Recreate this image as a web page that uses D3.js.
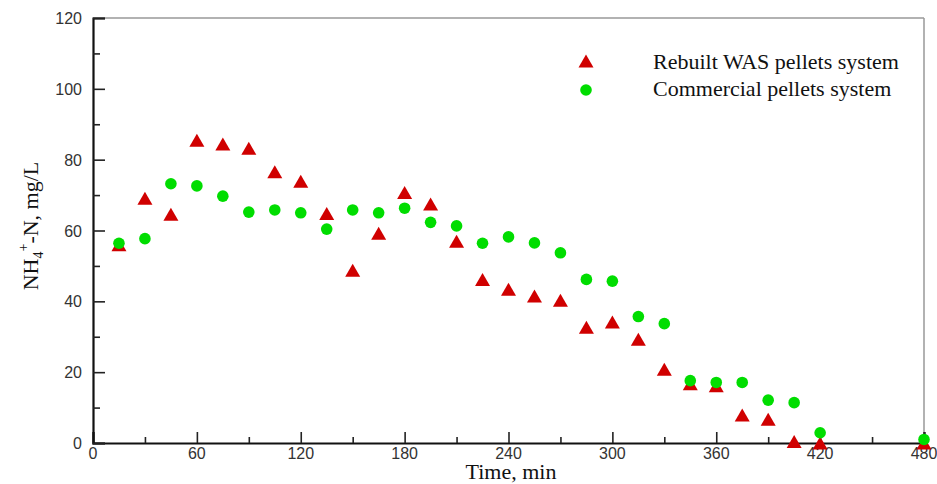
<!DOCTYPE html>
<html>
<head>
<meta charset="utf-8">
<script src="https://d3js.org/d3.v7.min.js"></script>
<style>
    body { margin: 0; background: #fff; }
    .tick-label { font-family: "Liberation Sans", Arial, sans-serif; font-size: 16px; fill: #333; }
    .serif { font-family: "Liberation Serif", "Times New Roman", serif; fill: #111; }
</style>
</head>
<body>
<script>
//time points, minutes
var times = [15, 30, 45, 60, 75, 90, 105, 120, 135, 150, 165, 180, 195, 210, 225,
    240, 255, 270, 285, 300, 315, 330, 345, 360, 375, 390, 405, 420, 480];

//NH4+-N, mg/L
var rebuiltWAS = [56, 69.1, 64.6, 85.5, 84.4, 83.2, 76.6, 73.9, 64.8, 48.8, 59.2, 70.7, 67.5, 57,
    46.2, 43.4, 41.5, 40.3, 32.7, 34.2, 29.3, 20.8, 16.7, 16.2, 7.9, 6.7, 0.4, 0, 0];
var commercial = [56.4, 57.7, 73.2, 72.6, 69.7, 65.2, 65.8, 65.0, 60.4, 65.8, 65.0, 66.3, 62.3, 61.3,
    56.4, 58.2, 56.5, 53.7, 46.2, 45.7, 35.7, 33.7, 17.6, 17.1, 17.1, 12.1, 11.4, 2.9, 1.0];

var xTicks = [0, 60, 120, 180, 240, 300, 360, 420, 480];
var yTicks = [0, 20, 40, 60, 80, 100, 120];
var seriesNames = ["Rebuilt WAS pellets system", "Commercial pellets system"];

window.onload = drawChart();

function drawChart() {
    var width = 937,
        height = 484,
        margin = {top: 18, right: 13, bottom: 41, left: 93};

    var svg = d3.select("body")
        .append("svg")
        .attr("width", width)
        .attr("height", height);

    var x = d3.scaleLinear()
        .domain([0, 480])
        .range([margin.left, width - margin.right]);

    var y = d3.scaleLinear()
        .domain([0, 120])
        .range([height - margin.bottom, margin.top]);

    //frame, top and right in grey
    svg.append("line")
        .attr("x1", x(0)).attr("x2", x(480))
        .attr("y1", y(120)).attr("y2", y(120))
        .attr("stroke", "#999").attr("stroke-width", 1.5);
    svg.append("line")
        .attr("x1", x(480)).attr("x2", x(480))
        .attr("y1", y(0)).attr("y2", y(120))
        .attr("stroke", "#999").attr("stroke-width", 1.5);

    //minor ticks
    var xMinor = d3.range(30, 480, 60);
    var yMinor = d3.range(10, 120, 20);

    var xAxis = d3.axisTop(x)
        .tickValues(xTicks)
        .tickSize(11)
        .tickFormat("");
    var yAxis = d3.axisRight(y)
        .tickValues(yTicks)
        .tickSize(12)
        .tickFormat("");

    svg.append("g")
        .attr("transform", "translate(0," + y(0) + ")")
        .call(xAxis);
    svg.append("g")
        .attr("transform", "translate(0," + y(0) + ")")
        .call(d3.axisTop(x).tickValues(xMinor).tickSize(6).tickFormat(""))
        .call(function (g) { g.select(".domain").remove(); });

    svg.append("g")
        .attr("transform", "translate(" + x(0) + ",0)")
        .call(yAxis);
    svg.append("g")
        .attr("transform", "translate(" + x(0) + ",0)")
        .call(d3.axisRight(y).tickValues(yMinor).tickSize(7).tickFormat(""))
        .call(function (g) { g.select(".domain").remove(); });

    svg.selectAll(".domain")
        .attr("stroke", "#111")
        .attr("stroke-width", 2.2);
    svg.selectAll(".tick line")
        .attr("stroke", "#222")
        .attr("stroke-width", 1.6);

    //tick labels
    svg.selectAll(".xlab")
        .data(xTicks)
        .enter()
        .append("text")
        .attr("class", "tick-label")
        .attr("x", function (d) { return x(d); })
        .attr("y", y(0) + 16)
        .attr("text-anchor", "middle")
        .text(function (d) { return d; });

    svg.selectAll(".ylab")
        .data(yTicks)
        .enter()
        .append("text")
        .attr("class", "tick-label")
        .attr("x", x(0) - 11)
        .attr("y", function (d) { return y(d) + 6; })
        .attr("text-anchor", "end")
        .text(function (d) { return d; });

    //axis titles
    svg.append("text")
        .attr("class", "serif")
        .attr("x", 511)
        .attr("y", 479)
        .attr("text-anchor", "middle")
        .style("font-size", "22px")
        .text("Time, min");

    var yt = svg.append("text")
        .attr("class", "serif")
        .attr("transform", "translate(38,226) rotate(-90)")
        .attr("text-anchor", "middle")
        .style("font-size", "22px");
    yt.append("tspan").text("NH");
    yt.append("tspan").attr("dy", 5).style("font-size", "14px").text("4");
    yt.append("tspan").attr("dy", -15).style("font-size", "14px").text("+");
    yt.append("tspan").attr("dy", 10).text("-N, mg/L");

    //markers
    var tri = "M0,-6.5L7.5,6.5L-7.5,6.5Z";

    svg.selectAll(".tri")
        .data(times)
        .enter()
        .append("path")
        .attr("class", "tri")
        .attr("d", tri)
        .attr("fill", "#d00000")
        .attr("transform", function (d, i) {
            return "translate(" + x(d) + "," + y(rebuiltWAS[i]) + ")";
        });

    svg.selectAll(".dot")
        .data(times)
        .enter()
        .append("circle")
        .attr("class", "dot")
        .attr("cx", function (d) { return x(d); })
        .attr("cy", function (d, i) { return y(commercial[i]); })
        .attr("r", 5.8)
        .attr("fill", "#00dd00");

    //legend
    var legend = svg.append("g");
    legend.append("path")
        .attr("d", tri)
        .attr("fill", "#d00000")
        .attr("transform", "translate(586,61)");
    legend.append("circle")
        .attr("cx", 586)
        .attr("cy", 90)
        .attr("r", 5.8)
        .attr("fill", "#00dd00");

    legend.selectAll(".leg")
        .data(seriesNames)
        .enter()
        .append("text")
        .attr("class", "serif")
        .attr("x", 653)
        .attr("y", function (d, i) { return 69 + i * 27; })
        .style("font-size", "22px")
        .text(function (d) { return d; });
}
</script>
</body>
</html>
